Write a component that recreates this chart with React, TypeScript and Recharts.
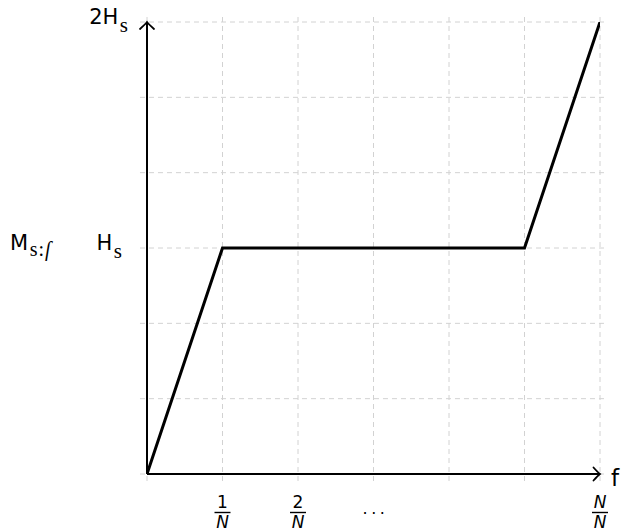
import React from 'react';
import { LineChart, Line, XAxis, YAxis, ReferenceLine, ReferenceDot } from 'recharts';

// Data (grid units: x in steps of 1/N, y in sixths of 2H_s)
const fValues = [0, 1, 5, 6];
const mValues = [0, 3, 3, 6];
const gridValues = [0, 1, 2, 3, 4, 5, 6];
const xTickValues = [1, 2, 3, 6];
const xTickNumerators = ['1', '2', '…', 'N'];
const yTickValues = [3, 6];
const yTickLabels = ['H', '2H'];

const data = fValues.map((f, i) => ({ f, m: mValues[i] }));

const SANS = 'DejaVu Sans';
const SERIF = 'Liberation Serif';
const EXT = 0.093;

const XTick = (props: any) => {
  const { x, y, payload } = props;
  const idx = xTickValues.indexOf(payload.value);
  const num = xTickNumerators[idx];
  if (num === '…') {
    return (
      <text x={x + 2} y={y + 40} textAnchor="middle" fontFamily={SANS} fontSize={16}
        letterSpacing={3.6} fill="#000">
        ...
      </text>
    );
  }
  const numItalic = num === 'N';
  return (
    <g>
      <text x={x} y={y + 34} textAnchor="middle" fontFamily={SANS} fontSize={17}
        fontStyle={numItalic ? 'italic' : 'normal'} fill="#000">{num}</text>
      <line x1={x - 8} x2={x + 8} y1={y + 38.5} y2={y + 38.5} stroke="#000" strokeWidth={1.4} />
      <text x={x} y={y + 54} textAnchor="middle" fontFamily={SANS} fontSize={17}
        fontStyle="italic" fill="#000">N</text>
    </g>
  );
};

const YTick = (props: any) => {
  const { x, y, payload } = props;
  const idx = yTickValues.indexOf(payload.value);
  const label = yTickLabels[idx];
  const off = payload.value === 6 ? 19 : 25;
  return (
    <text x={x - off} y={y + 1.5} textAnchor="end" fill="#000">
      <tspan fontFamily={SANS} fontSize={21}>{label}</tspan>
      <tspan fontFamily={SERIF} fontSize={21} dx={1.5} dy={8}>s</tspan>
    </text>
  );
};

const YLabel = (props: any) => {
  const vb = props.viewBox || {};
  const x = (vb.x ?? 7) + 3;
  const y = (vb.y ?? 22) + (vb.height ?? 452) / 2 + 2;
  return (
    <text x={x} y={y} fill="#000">
      <tspan fontFamily={SANS} fontSize={21}>M</tspan>
      <tspan fontFamily={SERIF} fontSize={20} dx={1.5} dy={6} letterSpacing={1}>s:</tspan>
      <tspan fontFamily={SERIF} fontSize={20} fontStyle="italic">ſ</tspan>
    </text>
  );
};

const XLabel = (props: any) => {
  const vb = props.viewBox || {};
  const x = (vb.x ?? 147) + (vb.width ?? 453) + 11;
  const y = (vb.y ?? 474) + 12;
  return (
    <text x={x} y={y} fill="#000" fontFamily={SANS} fontSize={23}>f</text>
  );
};

const ArrowRight = (props: any) => {
  const { cx, cy } = props;
  return (
    <path d={`M${cx - 6.5},${cy - 6.5} Q${cx - 2},${cy - 1.5} ${cx},${cy} Q${cx - 2},${cy + 1.5} ${cx - 6.5},${cy + 6.5}`}
      fill="none" stroke="#000" strokeWidth={1.8} strokeLinecap="round" />
  );
};

const ArrowUp = (props: any) => {
  const { cx, cy } = props;
  return (
    <path d={`M${cx - 7},${cy + 7} Q${cx - 1.5},${cy + 2} ${cx},${cy} Q${cx + 1.5},${cy + 2} ${cx + 7},${cy + 7}`}
      fill="none" stroke="#000" strokeWidth={1.8} strokeLinecap="round" />
  );
};

export default function App() {
  return (
    <div style={{ position: 'absolute', left: 0, top: 0, width: 621, height: 531 }}>
      <LineChart width={621} height={531} data={data}
        margin={{ top: 22, right: 21, left: 7, bottom: 7 }}>
        <XAxis dataKey="f" type="number" domain={[0, 6]} ticks={xTickValues}
          height={50} axisLine={false} tickLine={false} tickSize={0} tickMargin={0}
          tick={<XTick />} interval={0} allowDataOverflow
          label={{ content: (p: any) => <XLabel {...p} /> }} />
        <YAxis type="number" domain={[0, 6]} ticks={yTickValues} width={140}
          axisLine={false} tickLine={false} tickSize={0} tickMargin={0}
          tick={<YTick />} interval={0} allowDataOverflow
          label={{ content: (p: any) => <YLabel {...p} /> }} />
        {gridValues.map((g) => (
          <ReferenceLine key={`gx${g}`} segment={[{ x: g, y: -EXT }, { x: g, y: 6 + EXT }]}
            ifOverflow="visible" stroke="#d2d2d2" strokeWidth={1} strokeDasharray="5 4" />
        ))}
        {gridValues.map((g) => (
          <ReferenceLine key={`gy${g}`} segment={[{ x: -EXT, y: g }, { x: 6 + EXT, y: g }]}
            ifOverflow="visible" stroke="#d2d2d2" strokeWidth={1} strokeDasharray="5 4" />
        ))}
        <ReferenceLine segment={[{ x: 0, y: 0 }, { x: 6, y: 0 }]} ifOverflow="visible"
          stroke="#000" strokeWidth={2} />
        <ReferenceLine segment={[{ x: 0, y: 0 }, { x: 0, y: 6 }]} ifOverflow="visible"
          stroke="#000" strokeWidth={2} />
        <ReferenceDot x={6} y={0} ifOverflow="visible" shape={(p: any) => <ArrowRight {...p} />} />
        <ReferenceDot x={0} y={6} ifOverflow="visible" shape={(p: any) => <ArrowUp {...p} />} />
        <Line dataKey="m" type="linear" stroke="#000" strokeWidth={3} dot={false}
          isAnimationActive={false} />
      </LineChart>
    </div>
  );
}
